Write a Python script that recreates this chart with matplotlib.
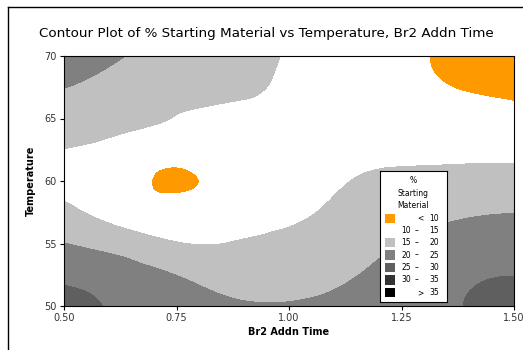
import numpy as np
import matplotlib
matplotlib.use('Agg')
import matplotlib.pyplot as plt
from matplotlib.patches import Rectangle
from matplotlib.lines import Line2D
from matplotlib.tri import Triangulation, UniformTriRefiner

# grid
addn_time = [0.5, 0.625, 0.75, 0.875, 1.0, 1.125, 1.25, 1.375, 1.5]
temperature = [50, 52.5, 55, 57.5, 60, 62.5, 65, 67.5, 70]
# % starting material, one row per temperature, columns follow addn_time
pct_sm = [
    [28.5, 24.0, 23.0, 21.0, 20.5, 21.5, 23.5, 24.8, 27.5],
    [23.5, 22.3, 19.9, 17.3, 17.5, 19.5, 21.5, 24.0, 24.9],
    [20.1, 17.8, 15.2, 15.1, 16.0, 18.0, 20.1, 21.7, 22.5],
    [16.3, 13.3, 12.5, 13.8, 14.1, 16.4, 18.5, 19.5, 19.9],
    [13.6, 12.4, 9.1, 12.4, 12.8, 14.8, 16.2, 17.0, 17.0],
    [14.9, 13.8, 12.5, 13.8, 12.6, 13.5, 13.7, 13.4, 13.4],
    [17.5, 16.3, 14.8, 13.6, 12.8, 12.5, 12.0, 11.5, 11.0],
    [20.1, 18.0, 16.3, 16.3, 13.8, 12.0, 11.0, 9.9, 9.2],
    [23.5, 20.3, 17.5, 16.5, 14.6, 12.0, 10.6, 9.3, 7.8],
]
bounds = [10, 15, 20, 25, 30, 35]
band_colors = ['#FF9900', '#FFFFFF', '#C0C0C0', '#808080',
               '#5F5F5F', '#333333', '#000000']

fig = plt.figure(figsize=(5.23, 3.5), dpi=100)
W, H = 523, 350

# outer frame (only left and top show)
fig.add_artist(Line2D([8 / W, 8 / W], [0, 343 / H], color='black', lw=1))
fig.add_artist(Line2D([8 / W, 1], [343 / H, 343 / H], color='black', lw=1))

ax = fig.add_axes([64 / W, 44 / H, 450 / W, 250 / H])

# smooth the surface in grid-index space (union-jack triangles),
# then place it on the real axes
nx, ny = len(addn_time), len(temperature)
ix, iy = np.meshgrid(np.arange(nx, dtype=float), np.arange(ny, dtype=float))
tris = []
for j in range(ny - 1):
    for i in range(nx - 1):
        a = j * nx + i
        if (i + j) % 2 == 0:
            tris.append([a, a + 1, a + nx + 1])
            tris.append([a, a + nx + 1, a + nx])
        else:
            tris.append([a, a + 1, a + nx])
            tris.append([a + 1, a + nx + 1, a + nx])
tri_idx = Triangulation(ix.ravel(), iy.ravel(), tris)
tri_fine, z_fine = UniformTriRefiner(tri_idx).refine_field(
    np.array(pct_sm).ravel(), subdiv=4)
tri_plot = Triangulation(np.interp(tri_fine.x, np.arange(nx), addn_time),
                         np.interp(tri_fine.y, np.arange(ny), temperature),
                         tri_fine.triangles)
levels = [-100] + bounds + [1000]
ax.tricontourf(tri_plot, z_fine, levels=levels, colors=band_colors)

ax.set_xlim(0.5, 1.5)
ax.set_ylim(50, 70)
ax.set_xticks([0.5, 0.75, 1.0, 1.25, 1.5])
ax.set_xticklabels(['0.50', '0.75', '1.00', '1.25', '1.50'])
ax.set_yticks([50, 55, 60, 65, 70])
ax.tick_params(labelsize=7, colors='black', labelcolor='#333333',
               length=3, width=0.8, pad=2)
for s in ax.spines.values():
    s.set_linewidth(0.8)
ax.set_xlabel('Br2 Addn Time', fontsize=7, fontweight='bold', labelpad=3)
ax.set_ylabel('Temperature', fontsize=7, fontweight='bold', labelpad=6)
fig.text(0.5 * (40 + 493) / W, 1 - 33 / H,
         'Contour Plot of % Starting Material vs Temperature, Br2 Addn Time',
         ha='center', va='center', fontsize=9.7)

# legend box drawn by hand
lax = fig.add_axes([380 / W, (H - 302) / H, 67 / W, 131 / H])
lax.set_xlim(0, 67)
lax.set_ylim(131, 0)
lax.set_xticks([])
lax.set_yticks([])
lax.set_facecolor('white')
for s in lax.spines.values():
    s.set_linewidth(0.8)
for txt, yy in zip(['%', 'Starting', 'Material'], [9.7, 22.3, 34]):
    lax.text(33.5, yy, txt, ha='center', va='center', fontsize=5.5)

row_y = [47.3, 59.7, 71.7, 84, 96.3, 109, 121.7]
for i, c in enumerate(band_colors):
    yy = row_y[i]
    lax.add_patch(Rectangle((5, yy - 4.7), 10, 9.4, facecolor=c,
                            edgecolor='none'))
    if i == 0:
        lax.text(40, yy, '<', ha='center', va='center', fontsize=5.5)
        lax.text(54, yy, str(bounds[0]), ha='center', va='center', fontsize=5.5)
    elif i == len(band_colors) - 1:
        lax.text(40, yy, '>', ha='center', va='center', fontsize=5.5)
        lax.text(54, yy, str(bounds[-1]), ha='center', va='center', fontsize=5.5)
    else:
        lax.text(26, yy, str(bounds[i - 1]), ha='center', va='center', fontsize=5.5)
        lax.text(36.7, yy, '–', ha='center', va='center', fontsize=5.5)
        lax.text(54, yy, str(bounds[i]), ha='center', va='center', fontsize=5.5)

fig.savefig('out.png', dpi=100)
